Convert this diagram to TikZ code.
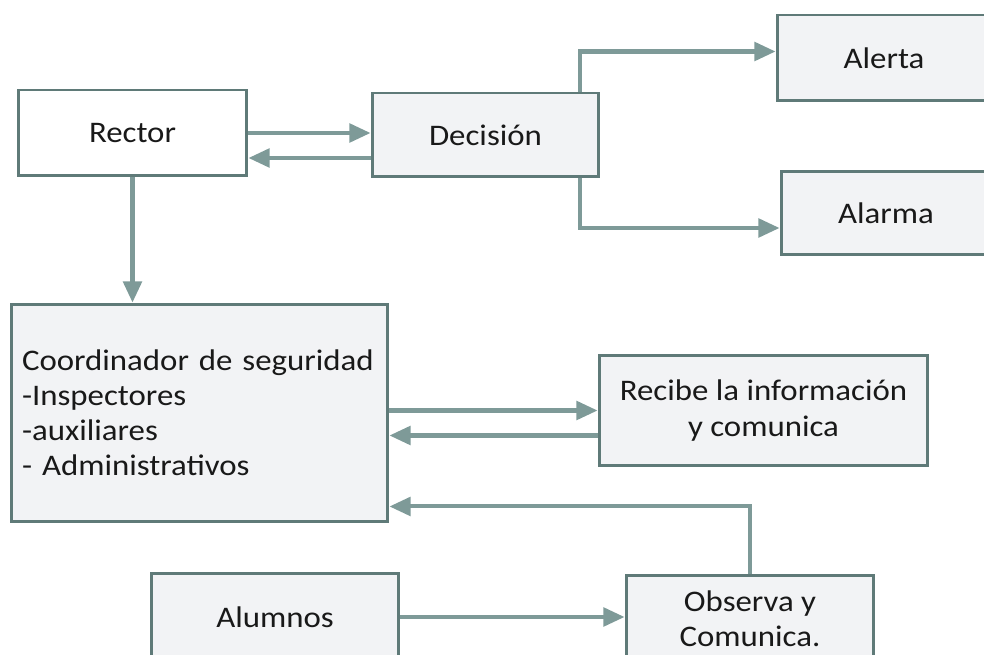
\documentclass[tikz,border=0pt]{standalone}
\usepackage{fontspec}
\setmainfont{Carlito}[FakeStretch=1.1]
\usetikzlibrary{arrows.meta}

\definecolor{boxline}{HTML}{5F7A78}
\definecolor{flowline}{HTML}{7E9A98}
\definecolor{boxfill}{HTML}{F2F3F5}

\begin{document}
\begin{tikzpicture}[x=0.02cm, y=-0.02cm]
	\tikzset {>={Triangle[length=12pt, width=10.5pt]}, flow/.style={->, draw=flowline, line width=2.3pt},
		box/.style={draw=boxline, line width=1.7pt, fill=boxfill, text=black!90, inner sep=0pt,
		font=\fontsize{17}{20}\selectfont, align=center} }
	\path[use as bounding box, clip] (0,0) rectangle (984,655);

	\node[box, fill=white, minimum width=4.58cm, minimum height=1.72cm] (rector) at (132.5,133) {Rector};
	\node[box, minimum width=4.54cm, minimum height=1.68cm] (decision) at (485.5,135) {Decisión};
	\node[box, minimum width=4.28cm, minimum height=1.72cm] (alerta) at (884,58) {Alerta};
	\node[box, minimum width=4.2cm, minimum height=1.68cm] (alarma) at (886,213) {Alarma};
	\node[box, minimum width=7.54cm, minimum height=4.36cm, inner xsep=0.22cm, text width=7.1cm, align=left] (coord) at (199.5,413)
		{Coordinador de seguridad\\-Inspectores\\-auxiliares\\- Administrativos};
	\node[box, minimum width=6.58cm, minimum height=2.22cm] (recibe) at (763.5,410.5) {Recibe la información\\y comunica};
	\node[box, minimum width=4.96cm, minimum height=1.76cm] (alumnos) at (275,617) {Alumnos};
	\node[box, minimum width=4.96cm, minimum height=1.76cm] (observa) at (750,619) {Observa y\\Comunica.};

	\draw[flow] (rector.east) -- (rector.east -| decision.west);
	\draw[flow] ([yshift=-0.46cm]decision.west) -- ([yshift=-0.46cm]decision.west -| rector.east);
	\draw[flow] ([xshift=1.89cm]decision.north) |- ([yshift=0.13cm]alerta.west);
	\draw[flow] ([xshift=1.89cm]decision.south) |- ([yshift=-0.3cm]alarma.west);
	\draw[flow] (rector.south) -- (rector.south |- coord.north);
	\draw[flow] (coord.east |- recibe.west) -- (recibe.west);
	\draw[flow] ([yshift=-0.5cm]recibe.west) -- ([yshift=-0.5cm]recibe.west -| coord.east);
	\draw[flow] (observa.north) |- ([yshift=0.34cm]coord.south east);
	\draw[flow] (alumnos.east) -- (alumnos.east -| observa.west);
\end{tikzpicture}
\end{document}
